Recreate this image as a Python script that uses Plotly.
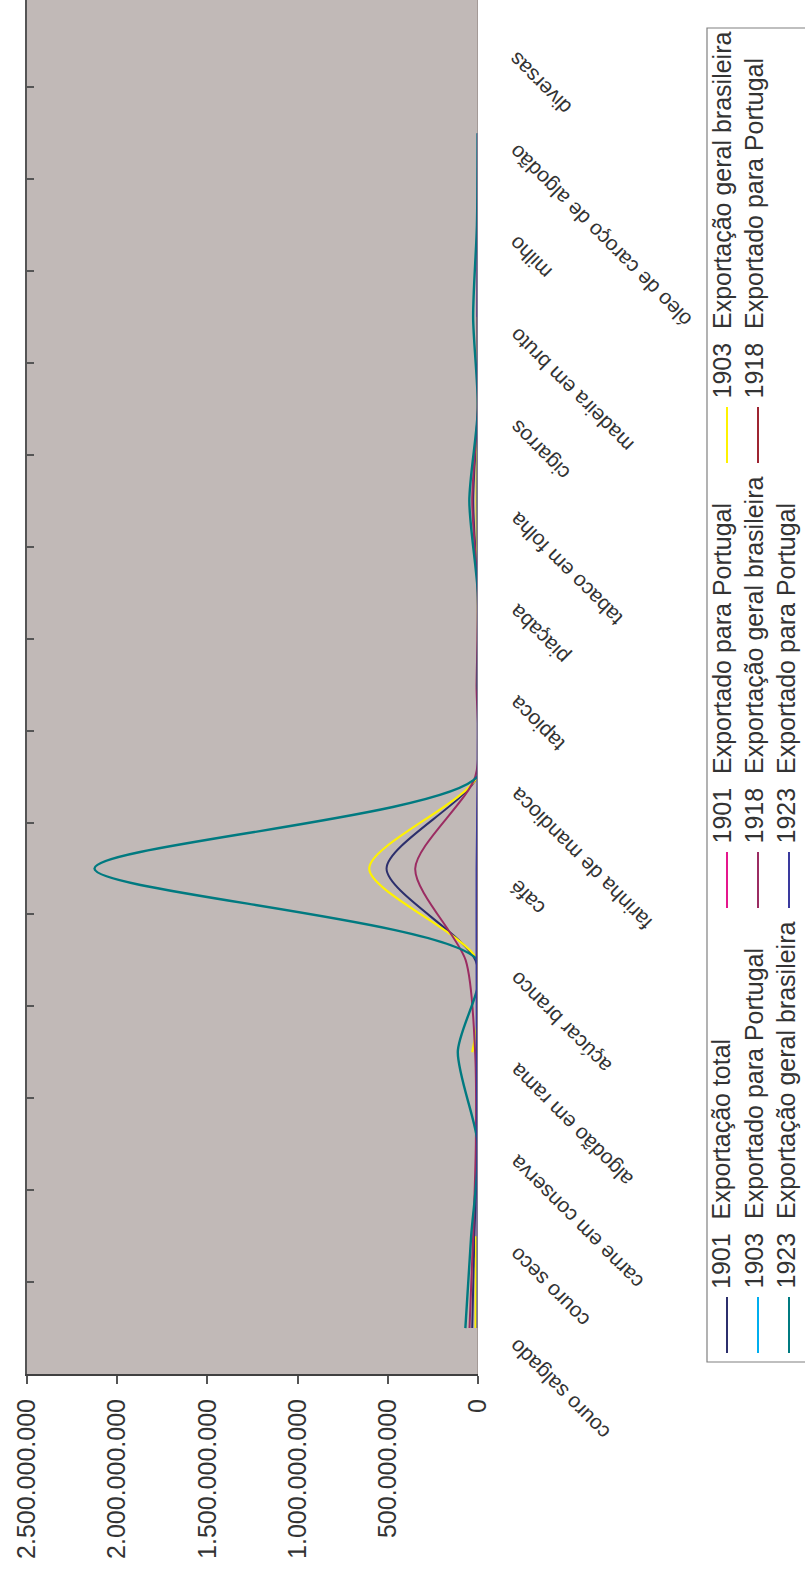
import plotly.graph_objects as go

# Exported goods, bottom to top along the category axis
categories = ["couro salgado", "couro seco", "carne em conserva", "algodão em rama",
              "açúcar branco", "café", "farinha de mandioca", "tapioca", "piaçaba",
              "tabaco em folha", "cigarros", "madeira em bruto", "milho",
              "óleo de caroço de algodão", "diversas"]

series_names = ["1901  Exportação total",
                "1901  Exportado para Portugal",
                "1903  Exportação geral brasileira",
                "1903  Exportado para Portugal",
                "1918  Exportação geral brasileira",
                "1918  Exportado para Portugal",
                "1923  Exportação geral brasileira",
                "1923  Exportado para Portugal"]

# Values in mil-réis (None = no figure given)
exp_1901_total = [32_000_000, 20_000_000, 3_000_000, 6_000_000, 14_000_000, 507_000_000,
                  4_000_000, 1_000_000, 1_000_000, 27_000_000, 1_000_000, 3_000_000,
                  1_000_000, 500_000, None]
exp_1901_portugal = [2_000_000, 1_000_000, 500_000, 500_000, 1_000_000, 4_000_000,
                     500_000, 200_000, 200_000, 1_000_000, 200_000, 500_000,
                     200_000, None, None]
exp_1903_geral = [13_000_000, 10_000_000, None, 32_000_000, 2_000_000, 603_000_000,
                  4_000_000, 1_000_000, 1_000_000, 8_000_000, 1_000_000, 2_000_000,
                  None, None, None]
exp_1903_portugal = [1_000_000, 500_000, 500_000, 500_000, 1_000_000, 3_000_000,
                     500_000, 200_000, 200_000, 1_000_000, 200_000, 500_000,
                     None, None, None]
exp_1918_geral = [47_000_000, 27_000_000, 12_000_000, 16_000_000, 68_000_000, 348_000_000,
                  15_000_000, 8_000_000, 1_000_000, 32_000_000, 1_000_000, 2_000_000,
                  1_000_000, None, None]
exp_1918_portugal = [500_000, 500_000, 500_000, 500_000, 1_000_000, 2_000_000,
                     500_000, 500_000, 200_000, 500_000, 200_000, 500_000,
                     None, None, None]
exp_1923_geral = [70_000_000, 38_000_000, 1_000_000, 112_000_000, 3_000_000, 2_126_000_000,
                  3_000_000, 1_000_000, 1_000_000, 48_000_000, 1_000_000, 27_000_000,
                  6_000_000, 2_000_000, None]
exp_1923_portugal = [2_000_000, 2_000_000, 4_000_000, 7_000_000, 8_000_000, 8_000_000,
                     2_000_000, 1_000_000, 1_000_000, 3_000_000, 1_000_000, 2_000_000,
                     1_000_000, 500_000, None]

series_values = [exp_1901_total, exp_1901_portugal, exp_1903_geral, exp_1903_portugal,
                 exp_1918_geral, exp_1918_portugal, exp_1923_geral, exp_1923_portugal]
series_colors = ["#2c2f6c", "#e5178d", "#fff200", "#00aeef",
                 "#9b2c62", "#9e2531", "#007a80", "#3a3a9e"]
series_widths = [2, 2, 2.2, 2, 2, 2, 2.4, 2]

value_ticks = [0, 500_000_000, 1_000_000_000, 1_500_000_000, 2_000_000_000, 2_500_000_000]
value_tick_text = ["0", "500.000.000", "1.000.000.000", "1.500.000.000",
                   "2.000.000.000", "2.500.000.000"]

W, H = 805, 1573
PLOT_L, PLOT_R, PLOT_T, PLOT_B = 27, 478, 0, 1374
FONT = "Liberation Sans, Arial, sans-serif"
TEXT_COLOR = "#333333"


def fx(px):
    return (px - PLOT_L) / (PLOT_R - PLOT_L)


def fy(py):
    return (PLOT_B - py) / (PLOT_B - PLOT_T)


fig = go.Figure()
for name, vals, color, width in zip(series_names, series_values, series_colors, series_widths):
    fig.add_trace(go.Scatter(
        x=vals, y=categories, name=name, mode="lines",
        line=dict(color=color, width=width, shape="spline", smoothing=0.75),
        connectgaps=False, showlegend=False, hoverinfo="x+name",
    ))

annotations = []
shapes = []

# category labels, slanted, to the right of the zero line
for cat in categories:
    annotations.append(dict(
        x=fx(502), xref="paper", y=cat, yref="y", yshift=-4,
        text=cat, textangle=-135, xanchor="left", yanchor="top", showarrow=False,
        font=dict(family=FONT, size=21, color=TEXT_COLOR),
    ))

# legend box, drawn rotated alongside the plot
shapes.append(dict(type="rect", xref="paper", yref="paper",
                   x0=fx(707), x1=fx(830), y0=fy(1362), y1=fy(28),
                   line=dict(color="#808080", width=1.2), fillcolor="white", layer="below"))
for i, (name, color) in enumerate(zip(series_names, series_colors)):
    row, col = i // 3, i % 3
    text_x = 721 + 32 * row
    line_x = 727 + 31 * row
    base_y = 1291 - 445 * col
    shapes.append(dict(type="line", xref="paper", yref="paper",
                       x0=fx(line_x), x1=fx(line_x), y0=fy(base_y + 6), y1=fy(base_y + 62),
                       line=dict(color=color, width=2)))
    annotations.append(dict(
        x=fx(text_x), xref="paper", y=fy(base_y), yref="paper",
        text=name, textangle=-90, xanchor="center", yanchor="bottom", showarrow=False,
        font=dict(family=FONT, size=25, color=TEXT_COLOR),
    ))

# right-hand border along the zero value
shapes.append(dict(type="line", xref="x", yref="paper", x0=0, x1=0, y0=0, y1=1,
                   line=dict(color="#9a908d", width=1.5)))

fig.update_layout(
    width=W, height=H,
    margin=dict(l=PLOT_L, r=W - PLOT_R, t=PLOT_T, b=H - PLOT_B, pad=0, autoexpand=False),
    paper_bgcolor="white", plot_bgcolor="#c1b9b7",
    showlegend=False,
    xaxis=dict(
        range=[2_500_000_000, 0], tickmode="array", tickvals=value_ticks, ticktext=value_tick_text,
        tickangle=-90, ticks="outside", ticklen=8, tickwidth=1.5, tickcolor="#555555",
        ticklabelstandoff=5,
        showline=True, linecolor="#404040", linewidth=2, showgrid=False, zeroline=False,
        tickfont=dict(family=FONT, size=25, color=TEXT_COLOR),
    ),
    xaxis2=dict(
        range=[2_500_000_000, 0], overlaying="x", anchor="y", side="bottom",
        tickmode="array", tickvals=value_ticks, ticks="inside", ticklen=7, tickwidth=1.5,
        tickcolor="#555555", showticklabels=False, showline=False, showgrid=False,
        zeroline=False,
    ),
    yaxis=dict(
        type="category", categoryorder="array", categoryarray=categories,
        range=[-0.5, 14.45], showticklabels=False, ticks="inside", ticklen=7,
        tickwidth=1.5, tickcolor="#555555", tickson="boundaries",
        showline=True, linecolor="#555555", linewidth=1.5, showgrid=False, zeroline=False,
    ),
    annotations=annotations,
    shapes=shapes,
)

fig.write_html("out.html")
